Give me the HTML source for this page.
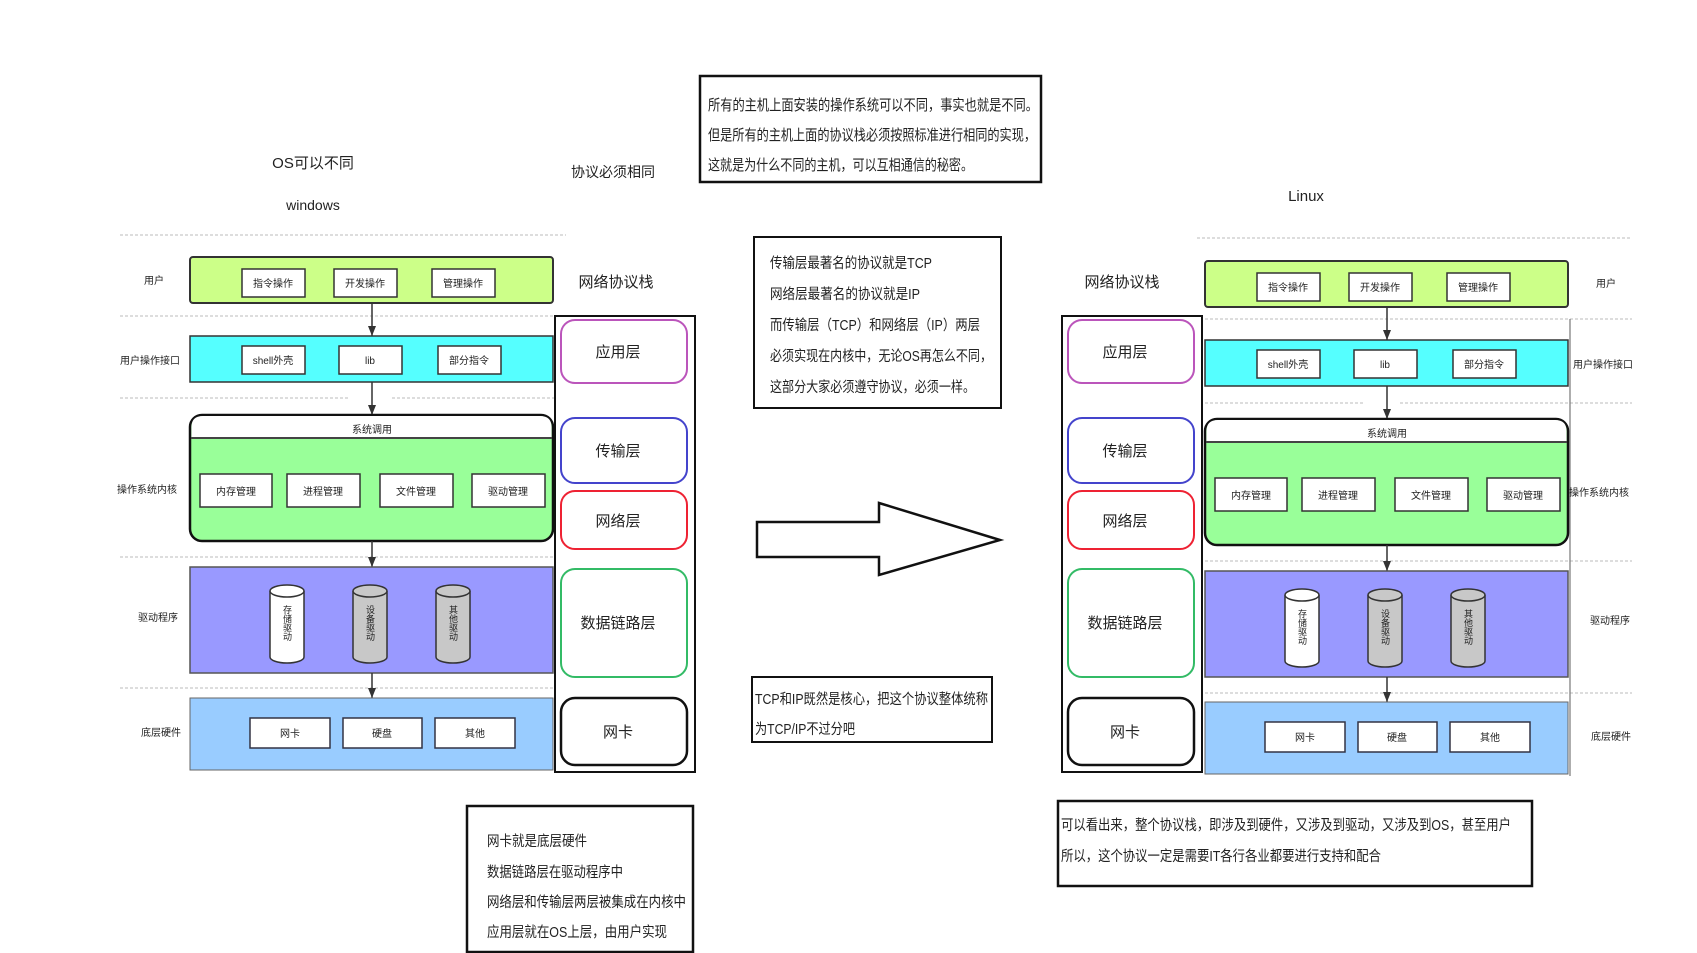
<!DOCTYPE html>
<html><head><meta charset="utf-8"><style>
html,body{margin:0;padding:0;background:#fff;}
svg{display:block;}
text{font-family:"Liberation Sans","Noto Sans CJK SC",sans-serif;fill:#222;}
</style></head><body>
<svg width="1697" height="953" viewBox="0 0 1697 953" xmlns="http://www.w3.org/2000/svg">
<defs>
<marker id="ah" markerWidth="10" markerHeight="8" refX="10" refY="4" orient="auto" markerUnits="userSpaceOnUse">
<path d="M0,0 L10,4 L0,8 Z" fill="#333"/></marker>
<g id="stack">
  <rect x="0" y="0" width="363" height="46" rx="3" fill="#ccff88" stroke="#333" stroke-width="2"/>
  <rect x="52" y="12" width="63" height="28" fill="#fff" stroke="#333" stroke-width="1.5"/>
  <rect x="144" y="12" width="63" height="28" fill="#fff" stroke="#333" stroke-width="1.5"/>
  <rect x="242" y="12" width="63" height="28" fill="#fff" stroke="#333" stroke-width="1.5"/>
  <text x="83" y="30" font-size="10" text-anchor="middle">指令操作</text>
  <text x="175" y="30" font-size="10" text-anchor="middle">开发操作</text>
  <text x="273" y="30" font-size="10" text-anchor="middle">管理操作</text>
  <line x1="182" y1="46" x2="182" y2="79" stroke="#333" stroke-width="1.5" marker-end="url(#ah)"/>
  <rect x="0" y="79" width="363" height="46" fill="#55ffff" stroke="#333" stroke-width="1.5"/>
  <rect x="52" y="89" width="63" height="28" fill="#fff" stroke="#333" stroke-width="1.5"/>
  <rect x="149" y="89" width="63" height="28" fill="#fff" stroke="#333" stroke-width="1.5"/>
  <rect x="248" y="89" width="63" height="28" fill="#fff" stroke="#333" stroke-width="1.5"/>
  <text x="83" y="107" font-size="10" text-anchor="middle">shell外壳</text>
  <text x="180" y="107" font-size="10" text-anchor="middle">lib</text>
  <text x="279" y="107" font-size="10" text-anchor="middle">部分指令</text>
  <line x1="182" y1="125" x2="182" y2="158" stroke="#333" stroke-width="1.5" marker-end="url(#ah)"/>
  <rect x="0" y="158" width="363" height="126" rx="12" fill="#99ff99" stroke="#111" stroke-width="2.5"/>
  <path d="M1.5,181 L1.5,170 Q1.5,159 13,159 L350,159 Q361.5,159 361.5,170 L361.5,181 Z" fill="#fff"/>
  <line x1="1" y1="181" x2="362" y2="181" stroke="#444" stroke-width="2"/>
  <text x="182" y="176" font-size="10" text-anchor="middle">系统调用</text>
  <rect x="10" y="217" width="72" height="33" fill="#fff" stroke="#333" stroke-width="1.5"/>
  <rect x="97" y="217" width="73" height="33" fill="#fff" stroke="#333" stroke-width="1.5"/>
  <rect x="190" y="217" width="73" height="33" fill="#fff" stroke="#333" stroke-width="1.5"/>
  <rect x="282" y="217" width="73" height="33" fill="#fff" stroke="#333" stroke-width="1.5"/>
  <text x="46" y="238" font-size="10" text-anchor="middle">内存管理</text>
  <text x="133" y="238" font-size="10" text-anchor="middle">进程管理</text>
  <text x="226" y="238" font-size="10" text-anchor="middle">文件管理</text>
  <text x="318" y="238" font-size="10" text-anchor="middle">驱动管理</text>
  <line x1="182" y1="284" x2="182" y2="310" stroke="#333" stroke-width="1.5" marker-end="url(#ah)"/>
  <rect x="0" y="310" width="363" height="106" fill="#9999ff" stroke="#555" stroke-width="1.5"/>
  <g stroke="#333" stroke-width="1.5">
   <path d="M80,334 L80,400 A17,6 0 0 0 114,400 L114,334" fill="#fff"/>
   <ellipse cx="97" cy="334" rx="17" ry="6" fill="#fff"/>
   <path d="M163,334 L163,400 A17,6 0 0 0 197,400 L197,334" fill="#c8c8c8"/>
   <ellipse cx="180" cy="334" rx="17" ry="6" fill="#c8c8c8"/>
   <path d="M246,334 L246,400 A17,6 0 0 0 280,400 L280,334" fill="#c8c8c8"/>
   <ellipse cx="263" cy="334" rx="17" ry="6" fill="#c8c8c8"/>
  </g>
  <text font-size="9" x="97" y="348" style="writing-mode:vertical-rl">存储驱动</text>
  <text font-size="9" x="180" y="348" style="writing-mode:vertical-rl">设备驱动</text>
  <text font-size="9" x="263" y="348" style="writing-mode:vertical-rl">其他驱动</text>
  <line x1="182" y1="416" x2="182" y2="441" stroke="#333" stroke-width="1.5" marker-end="url(#ah)"/>
  <rect x="0" y="441" width="363" height="72" fill="#99ccff" stroke="#666" stroke-width="1"/>
  <rect x="60" y="461" width="80" height="30" fill="#fff" stroke="#334" stroke-width="1.5"/>
  <rect x="153" y="461" width="79" height="30" fill="#fff" stroke="#334" stroke-width="1.5"/>
  <rect x="245" y="461" width="80" height="30" fill="#fff" stroke="#334" stroke-width="1.5"/>
  <text x="100" y="480" font-size="10" text-anchor="middle">网卡</text>
  <text x="192" y="480" font-size="10" text-anchor="middle">硬盘</text>
  <text x="285" y="480" font-size="10" text-anchor="middle">其他</text>
</g>
<g id="proto">
  <rect x="0" y="0" width="140" height="456" fill="#fff" stroke="#111" stroke-width="2"/>
  <rect x="6" y="4" width="126" height="63" rx="14" fill="#fff" stroke="#bb55bb" stroke-width="2"/>
  <rect x="6" y="102" width="126" height="65" rx="14" fill="#fff" stroke="#4444cc" stroke-width="2"/>
  <rect x="6" y="175" width="126" height="58" rx="14" fill="#fff" stroke="#ee2233" stroke-width="2"/>
  <rect x="6" y="253" width="126" height="108" rx="14" fill="#fff" stroke="#33bb66" stroke-width="2"/>
  <rect x="6" y="382" width="126" height="67" rx="14" fill="#fff" stroke="#111" stroke-width="2.5"/>
  <text x="63" y="41" font-size="15" text-anchor="middle">应用层</text>
  <text x="63" y="140" font-size="15" text-anchor="middle">传输层</text>
  <text x="63" y="210" font-size="15" text-anchor="middle">网络层</text>
  <text x="63" y="312" font-size="15" text-anchor="middle">数据链路层</text>
  <text x="63" y="421" font-size="15" text-anchor="middle">网卡</text>
</g>
</defs>

<g stroke="#bbb" stroke-width="1" stroke-dasharray="3,2">
<line x1="120" y1="235" x2="566" y2="235"/>
<line x1="120" y1="316" x2="555" y2="316"/>
<line x1="120" y1="398" x2="350" y2="398"/><line x1="392" y1="398" x2="555" y2="398"/>
<line x1="120" y1="557" x2="555" y2="557"/>
<line x1="120" y1="688" x2="555" y2="688"/>
<line x1="1197" y1="238" x2="1632" y2="238"/>
<line x1="1205" y1="319" x2="1632" y2="319"/>
<line x1="1205" y1="403" x2="1365" y2="403"/><line x1="1400" y1="403" x2="1632" y2="403"/>
<line x1="1205" y1="561" x2="1632" y2="561"/>
<line x1="1205" y1="693" x2="1632" y2="693"/>
</g>
<line x1="1570" y1="319" x2="1570" y2="776" stroke="#777" stroke-width="1.2"/>

<use href="#stack" x="190" y="257"/>
<use href="#stack" x="1205" y="261"/>
<use href="#proto" x="555" y="316"/>
<use href="#proto" x="1062" y="316"/>

<g font-size="10">
<text x="154" y="284" text-anchor="middle">用户</text>
<text x="150" y="364" text-anchor="middle">用户操作接口</text>
<text x="147" y="493" text-anchor="middle">操作系统内核</text>
<text x="158" y="621" text-anchor="middle">驱动程序</text>
<text x="161" y="736" text-anchor="middle">底层硬件</text>
<text x="1606" y="287" text-anchor="middle">用户</text>
<text x="1603" y="368" text-anchor="middle">用户操作接口</text>
<text x="1599" y="496" text-anchor="middle">操作系统内核</text>
<text x="1610" y="624" text-anchor="middle">驱动程序</text>
<text x="1611" y="740" text-anchor="middle">底层硬件</text>
</g>
<text x="616" y="287" font-size="15" text-anchor="middle">网络协议栈</text>
<text x="1122" y="287" font-size="15" text-anchor="middle">网络协议栈</text>
<text x="313" y="168" font-size="15" text-anchor="middle">OS可以不同</text>
<text x="313" y="210" font-size="14" text-anchor="middle">windows</text>
<text x="613" y="177" font-size="14" text-anchor="middle">协议必须相同</text>
<text x="1306" y="201" font-size="15" text-anchor="middle">Linux</text>

<rect x="700" y="76" width="341" height="106" fill="#fff" stroke="#111" stroke-width="2.5"/>
<g font-size="15" lengthAdjust="spacingAndGlyphs">
<text x="708" y="110" textLength="330" lengthAdjust="spacingAndGlyphs">所有的主机上面安装的操作系统可以不同，事实也就是不同。</text>
<text x="708" y="140" textLength="328" lengthAdjust="spacingAndGlyphs">但是所有的主机上面的协议栈必须按照标准进行相同的实现，</text>
<text x="708" y="170" textLength="265" lengthAdjust="spacingAndGlyphs">这就是为什么不同的主机，可以互相通信的秘密。</text>
</g>
<rect x="754" y="237" width="247" height="171" fill="#fff" stroke="#111" stroke-width="2"/>
<g font-size="14.5">
<text x="770" y="268" textLength="162" lengthAdjust="spacingAndGlyphs">传输层最著名的协议就是TCP</text>
<text x="770" y="299" textLength="150" lengthAdjust="spacingAndGlyphs">网络层最著名的协议就是IP</text>
<text x="770" y="330" textLength="210" lengthAdjust="spacingAndGlyphs">而传输层（TCP）和网络层（IP）两层</text>
<text x="770" y="361" textLength="222" lengthAdjust="spacingAndGlyphs">必须实现在内核中，无论OS再怎么不同，</text>
<text x="770" y="392" textLength="205" lengthAdjust="spacingAndGlyphs">这部分大家必须遵守协议，必须一样。</text>
</g>
<path d="M757,522 L879,522 L879,503 L1000,540 L879,575 L879,557 L757,557 Z" fill="#fff" stroke="#111" stroke-width="2.5"/>
<rect x="752" y="677" width="240" height="65" fill="#fff" stroke="#111" stroke-width="2"/>
<g font-size="14.5">
<text x="755" y="704" textLength="233" lengthAdjust="spacingAndGlyphs">TCP和IP既然是核心，把这个协议整体统称</text>
<text x="755" y="734" textLength="100" lengthAdjust="spacingAndGlyphs">为TCP/IP不过分吧</text>
</g>
<rect x="467" y="806" width="226" height="146" fill="#fff" stroke="#111" stroke-width="2.5"/>
<g font-size="14.5">
<text x="487" y="846" textLength="100" lengthAdjust="spacingAndGlyphs">网卡就是底层硬件</text>
<text x="487" y="877" textLength="136" lengthAdjust="spacingAndGlyphs">数据链路层在驱动程序中</text>
<text x="487" y="907" textLength="199" lengthAdjust="spacingAndGlyphs">网络层和传输层两层被集成在内核中</text>
<text x="487" y="937" textLength="180" lengthAdjust="spacingAndGlyphs">应用层就在OS上层，由用户实现</text>
</g>
<rect x="1058" y="801" width="474" height="85" fill="#fff" stroke="#111" stroke-width="2.5"/>
<g font-size="14.5">
<text x="1061" y="830" textLength="450" lengthAdjust="spacingAndGlyphs">可以看出来，整个协议栈，即涉及到硬件，又涉及到驱动，又涉及到OS，甚至用户</text>
<text x="1061" y="861" textLength="320" lengthAdjust="spacingAndGlyphs">所以，这个协议一定是需要IT各行各业都要进行支持和配合</text>
</g>
</svg>
</body></html>
